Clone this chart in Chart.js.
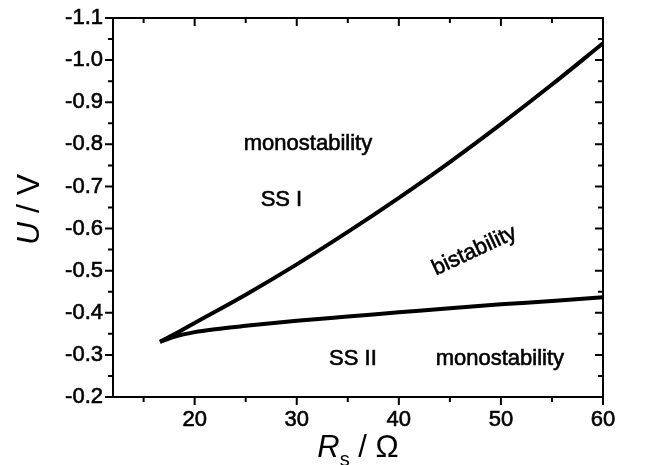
<!DOCTYPE html>
<html>
<head>
<meta charset="utf-8">
<script src="https://cdn.jsdelivr.net/npm/chart.js@4.4.0/dist/chart.umd.min.js"></script>
<style>
  html, body { margin: 0; padding: 0; background: #fff; }
  #wrap { width: 646px; height: 465px; }
</style>
</head>
<body>
<div id="wrap"><canvas id="myChart" width="646" height="465"></canvas></div>
<script>
// boundary curves (Rs in Ohm, U in V)
const upperRs = [16.6, 18, 20, 25, 30, 35, 40, 45, 50, 55, 60];
const upperU  = [-0.331, -0.349, -0.376, -0.443, -0.515, -0.592, -0.673, -0.758, -0.848, -0.942, -1.04];
const lowerRs = [16.6, 18, 20, 22, 25, 30, 35, 40, 45, 50, 55, 60];
const lowerU  = [-0.331, -0.343, -0.354, -0.361, -0.369, -0.381, -0.391, -0.401, -0.411, -0.42, -0.428, -0.437];

const xTickLabels = [20, 30, 40, 50, 60];
const xMinorTicks = [15, 25, 35, 45, 55];
const yTickLabels = [-1.1, -1.0, -0.9, -0.8, -0.7, -0.6, -0.5, -0.4, -0.3, -0.2];
const yMinorTicks = [-1.05, -0.95, -0.85, -0.75, -0.65, -0.55, -0.45, -0.35, -0.25];

// region labels, anchored in data coordinates
const regionLabels = [
    { text: 'monostability', x: 31.1, y: -0.80, rot: 0 },
    { text: 'SS I', x: 28.5, y: -0.667, rot: 0 },
    { text: 'bistability', x: 47.4, y: -0.547, rot: -25 },
    { text: 'SS II', x: 35.5, y: -0.29, rot: 0 },
    { text: 'monostability', x: 49.9, y: -0.29, rot: 0 }
];

const FONT = '"Liberation Sans", Arial, sans-serif';
const toPoints = (xs, ys) => xs.map((x, i) => ({ x: x, y: ys[i] }));

const frameAndTicks = {
    id: 'frameAndTicks',
    afterDraw(chart) {
        const c = chart.ctx;
        const a = chart.chartArea;
        const xs = chart.scales.x, ys = chart.scales.y;
        c.save();
        c.strokeStyle = '#000';
        c.lineWidth = 2;
        c.strokeRect(a.left, a.top, a.right - a.left, a.bottom - a.top);
        c.beginPath();
        const tickX = (vals, len) => {
            vals.forEach(v => {
                const px = xs.getPixelForValue(v);
                c.moveTo(px, a.bottom); c.lineTo(px, a.bottom + len);
                c.moveTo(px, a.top); c.lineTo(px, a.top + len);
            });
        };
        const tickY = (vals, len) => {
            vals.forEach(v => {
                const py = ys.getPixelForValue(v);
                c.moveTo(a.left, py); c.lineTo(a.left - len, py);
                c.moveTo(a.right, py); c.lineTo(a.right - len, py);
            });
        };
        tickX(xTickLabels, 8);
        tickX(xMinorTicks, 5);
        tickY(yTickLabels, 8);
        tickY(yMinorTicks, 5);
        c.stroke();

        // region labels
        c.fillStyle = '#000';
        c.lineWidth = 0.6;
        c.font = '22px ' + FONT;
        c.textAlign = 'center';
        c.textBaseline = 'middle';
        regionLabels.forEach(l => {
            c.save();
            c.translate(xs.getPixelForValue(l.x), ys.getPixelForValue(l.y));
            c.rotate(l.rot * Math.PI / 180);
            c.fillText(l.text, 0, 0);
            c.strokeText(l.text, 0, 0);
            c.restore();
        });

        // axis titles
        const cx = (a.left + a.right) / 2;
        c.textAlign = 'left';
        c.textBaseline = 'alphabetic';
        c.font = 'italic 31px ' + FONT;
        const rW = c.measureText('R').width;
        c.font = '20px ' + FONT;
        const sW = c.measureText('s').width;
        c.font = '31px ' + FONT;
        const restW = c.measureText(' / \u03A9').width;
        const x0 = cx - (rW + sW + restW) / 2;
        const by = 457;
        c.font = 'italic 31px ' + FONT;
        c.fillText('R', x0, by);
        c.font = '20px ' + FONT;
        c.fillText('s', x0 + rW, by + 9);
        c.font = '31px ' + FONT;
        c.fillText(' / \u03A9', x0 + rW + sW, by);

        c.save();
        c.translate(39, (a.top + a.bottom) / 2 + 2);
        c.rotate(-Math.PI / 2);
        c.font = 'italic 32px ' + FONT;
        const uW = c.measureText('U').width;
        c.font = '32px ' + FONT;
        const vW = c.measureText(' / V').width;
        const u0 = -(uW + vW) / 2;
        c.font = 'italic 32px ' + FONT;
        c.fillText('U', u0, 0);
        c.font = '32px ' + FONT;
        c.fillText(' / V', u0 + uW, 0);
        c.restore();
        c.restore();
    }
};

const ctx = document.getElementById('myChart').getContext('2d');

const myChart = new Chart(ctx, {
    type: 'scatter',
    data: {
        datasets: [{
            label: 'SS I boundary',
            data: toPoints(upperRs, upperU),
            showLine: true,
            borderColor: '#000',
            borderWidth: 4,
            pointRadius: 0,
            cubicInterpolationMode: 'monotone'
        }, {
            label: 'SS II boundary',
            data: toPoints(lowerRs, lowerU),
            showLine: true,
            borderColor: '#000',
            borderWidth: 4,
            pointRadius: 0,
            cubicInterpolationMode: 'monotone'
        }]
    },
    options: {
        responsive: false,
        animation: false,
        layout: { padding: { top: 18, right: 43, left: 0, bottom: 0 } },
        plugins: { legend: { display: false }, tooltip: { enabled: false } },
        scales: {
            x: {
                type: 'linear',
                min: 12,
                max: 60,
                grid: { display: false },
                border: { display: false },
                afterBuildTicks: s => { s.ticks = xTickLabels.map(v => ({ value: v })); },
                afterFit: s => { s.height = 68; },
                ticks: {
                    color: '#000',
                    padding: 2,
                    maxRotation: 0,
                    textStrokeColor: '#000',
                    textStrokeWidth: 0.6,
                    font: { family: FONT, size: 22 }
                }
            },
            y: {
                type: 'linear',
                reverse: true,
                min: -1.1,
                max: -0.2,
                grid: { display: false },
                border: { display: false },
                afterBuildTicks: s => { s.ticks = yTickLabels.map(v => ({ value: v })); },
                afterFit: s => { s.width = 113; },
                ticks: {
                    color: '#000',
                    padding: 2,
                    textStrokeColor: '#000',
                    textStrokeWidth: 0.6,
                    callback: v => v.toFixed(1),
                    font: { family: FONT, size: 22 }
                }
            }
        }
    },
    plugins: [frameAndTicks]
});
</script>
</body>
</html>
